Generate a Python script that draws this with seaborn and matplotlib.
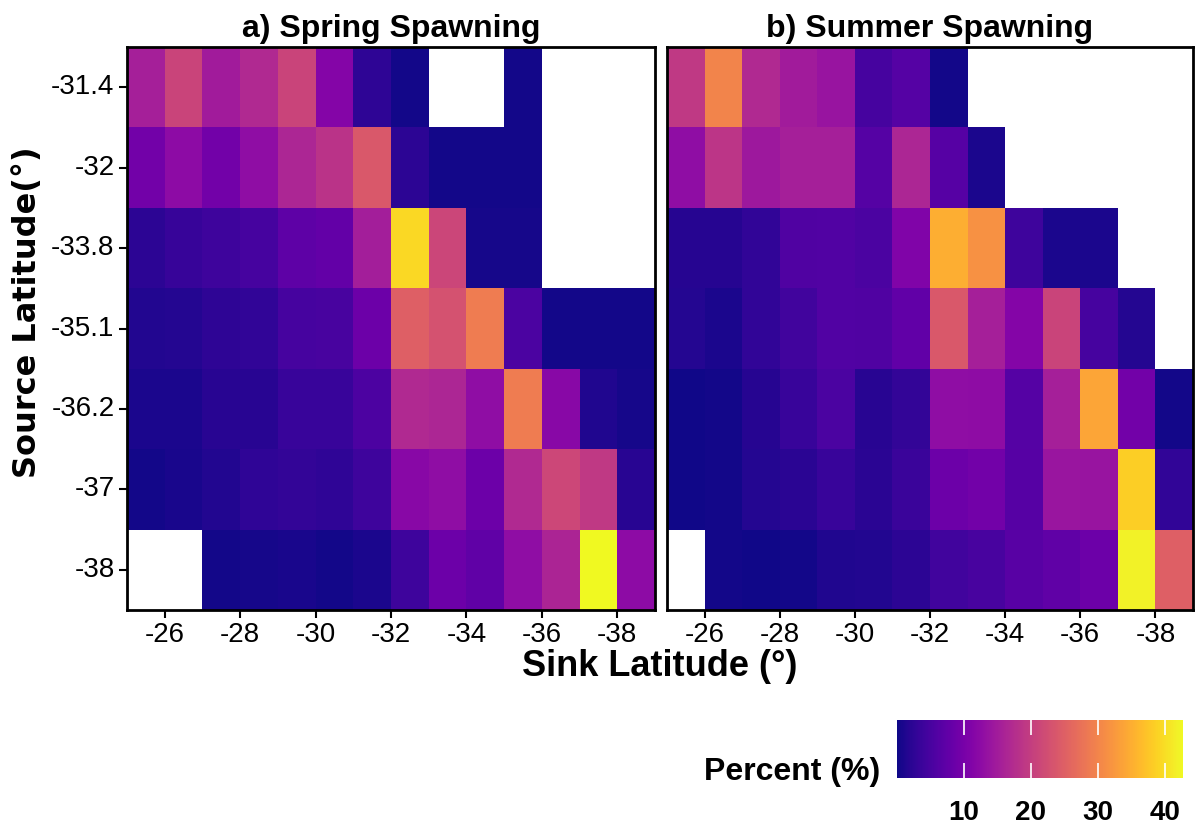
import numpy as np
import pandas as pd
import matplotlib
matplotlib.use("Agg")
import matplotlib.pyplot as plt
import seaborn as sns

sns.set_style("white")
plt.rcParams["font.family"] = ["Liberation Sans", "DejaVu Sans"]
plt.rcParams["text.color"] = "black"
plt.rcParams["axes.labelcolor"] = "black"
plt.rcParams["xtick.color"] = "black"
plt.rcParams["ytick.color"] = "black"
plt.rcParams["xtick.labelcolor"] = "black"
plt.rcParams["ytick.labelcolor"] = "black"

nan = np.nan

# Sink latitude cells (column centres) and source latitudes (rows)
sink_lat = [-25.5, -26.5, -27.5, -28.5, -29.5, -30.5, -31.5,
            -32.5, -33.5, -34.5, -35.5, -36.5, -37.5, -38.5]
source_lat = ["-31.4", "-32", "-33.8", "-35.1", "-36.2", "-37", "-38"]
x_ticks = [-26, -28, -30, -32, -34, -36, -38]
cbar_ticks = [10, 20, 30, 40]

spring = [
    [15.5, 21.0, 15.0, 17.0, 21.0, 11.5, 2.5, 0.5, nan, nan, 0.5, nan, nan, nan],
    [9.5, 12.5, 9.5, 12.8, 16.5, 18.5, 24.0, 2.2, 0.5, 0.5, 0.5, nan, nan, nan],
    [2.2, 3.3, 4.0, 4.8, 7.2, 7.8, 15.3, 39.5, 21.3, 0.6, 0.6, nan, nan, nan],
    [1.5, 1.6, 2.5, 2.7, 4.7, 5.0, 8.7, 25.0, 23.0, 29.0, 5.2, 0.5, 0.5, 0.5],
    [0.9, 0.9, 1.9, 2.0, 3.4, 3.5, 5.5, 17.0, 16.5, 12.8, 29.0, 12.0, 1.2, 0.6],
    [0.5, 0.7, 1.4, 2.6, 3.0, 2.6, 3.9, 12.0, 12.8, 8.7, 17.0, 21.5, 19.3, 2.0],
    [nan, nan, 0.5, 0.6, 0.8, 0.4, 1.0, 3.9, 8.7, 7.4, 12.8, 16.3, 42.7, 12.5],
]

summer = [
    [19.3, 30.0, 17.0, 15.0, 13.7, 4.8, 6.3, 0.5, nan, nan, nan, nan, nan, nan],
    [12.8, 18.8, 14.5, 15.5, 15.5, 6.3, 16.5, 6.5, 0.9, nan, nan, nan, nan, nan],
    [1.8, 1.8, 2.7, 5.7, 6.0, 5.3, 11.0, 35.0, 31.6, 3.9, 0.9, 0.9, nan, nan],
    [1.6, 0.9, 2.7, 4.3, 6.0, 5.7, 7.6, 24.0, 15.5, 11.5, 21.0, 4.8, 1.6, nan],
    [0.3, 0.5, 1.8, 3.4, 5.3, 2.0, 2.9, 12.8, 12.6, 6.3, 15.5, 34.0, 9.5, 0.5],
    [0.3, 0.5, 1.6, 2.1, 3.4, 2.1, 3.6, 8.7, 9.4, 6.5, 14.0, 13.7, 38.4, 2.7],
    [nan, 0.5, 0.3, 0.5, 1.3, 1.4, 2.3, 4.3, 5.0, 6.6, 7.4, 8.7, 42.0, 25.0],
]

VMIN, VMAX = 0.0, 42.7

df_spring = pd.DataFrame(spring, index=source_lat, columns=sink_lat)
df_summer = pd.DataFrame(summer, index=source_lat, columns=sink_lat)

W, H = 1200, 832
fig = plt.figure(figsize=(W / 100, H / 100), dpi=100)
fig.patch.set_facecolor("white")

def fx(px):
    return px / W

def fy(py):
    return 1 - py / H

ax1 = fig.add_axes([fx(127), fy(610), fx(655 - 127), (610 - 47) / H])
ax2 = fig.add_axes([fx(667), fy(610), fx(1193 - 667), (610 - 47) / H])
cax = fig.add_axes([fx(897), fy(778), fx(1183 - 897), (778 - 720) / H])

sns.heatmap(df_spring, ax=ax1, cmap="plasma", vmin=VMIN, vmax=VMAX, cbar=False)
sns.heatmap(df_summer, ax=ax2, cmap="plasma", vmin=VMIN, vmax=VMAX,
            cbar=True, cbar_ax=cax,
            cbar_kws={"orientation": "horizontal", "ticks": cbar_ticks})

xpos = [(sink_lat[0] + 0.5) - t for t in x_ticks]
for ax, title in [(ax1, "a) Spring Spawning"), (ax2, "b) Summer Spawning")]:
    ax.set_xticks(xpos)
    ax.set_xticklabels([str(t) for t in x_ticks], rotation=0, fontsize=20,
                       color="black")
    ax.set_xlabel("")
    ax.set_ylabel("")
    for s in ax.spines.values():
        s.set_visible(True)
        s.set_color("black")
        s.set_linewidth(2)
    ax.tick_params(axis="x", length=6, width=1.5, color="black", pad=3, bottom=True)
    ax.set_title(title, fontsize=23, fontweight="bold", pad=7, color="black")

ax1.set_yticks(np.arange(len(source_lat)) + 0.5)
ax1.set_yticklabels(source_lat, rotation=0, fontsize=20, color="black")
ax1.tick_params(axis="y", length=6, width=1.5, color="black", pad=3, left=True)
ax2.set_yticks([])

# colorbar styling: white tick marks inside the bar on both edges
cb = ax2.collections[0].colorbar
cb.outline.set_visible(False)
cax.set_axisbelow(False)
cax.tick_params(axis="x", which="major", direction="in", length=11, width=1.2,
                color="white", top=True, bottom=True, labelsize=20, pad=16,
                labelcolor="black")
cax.tick_params(axis="x", which="minor", length=0)
for tl in cax.xaxis.get_major_ticks():
    tl.tick1line.set_zorder(10)
    tl.tick2line.set_zorder(10)
for lab in cax.get_xticklabels():
    lab.set_fontweight("bold")
    lab.set_color("black")

fig.text(fx(880), fy(772), "Percent (%)", ha="right", va="center",
         fontsize=23, fontweight="bold", color="black")
fig.text(fx(660), fy(667), "Sink Latitude (°)", ha="center", va="center",
         fontsize=26, fontweight="bold", color="black")
fig.text(fx(28), fy(312), "Source Latitude(°)", ha="center", va="center",
         rotation=90, fontsize=23, fontweight="bold", family="DejaVu Sans",
         color="black")

fig.savefig("out.png", dpi=100, facecolor="white")
